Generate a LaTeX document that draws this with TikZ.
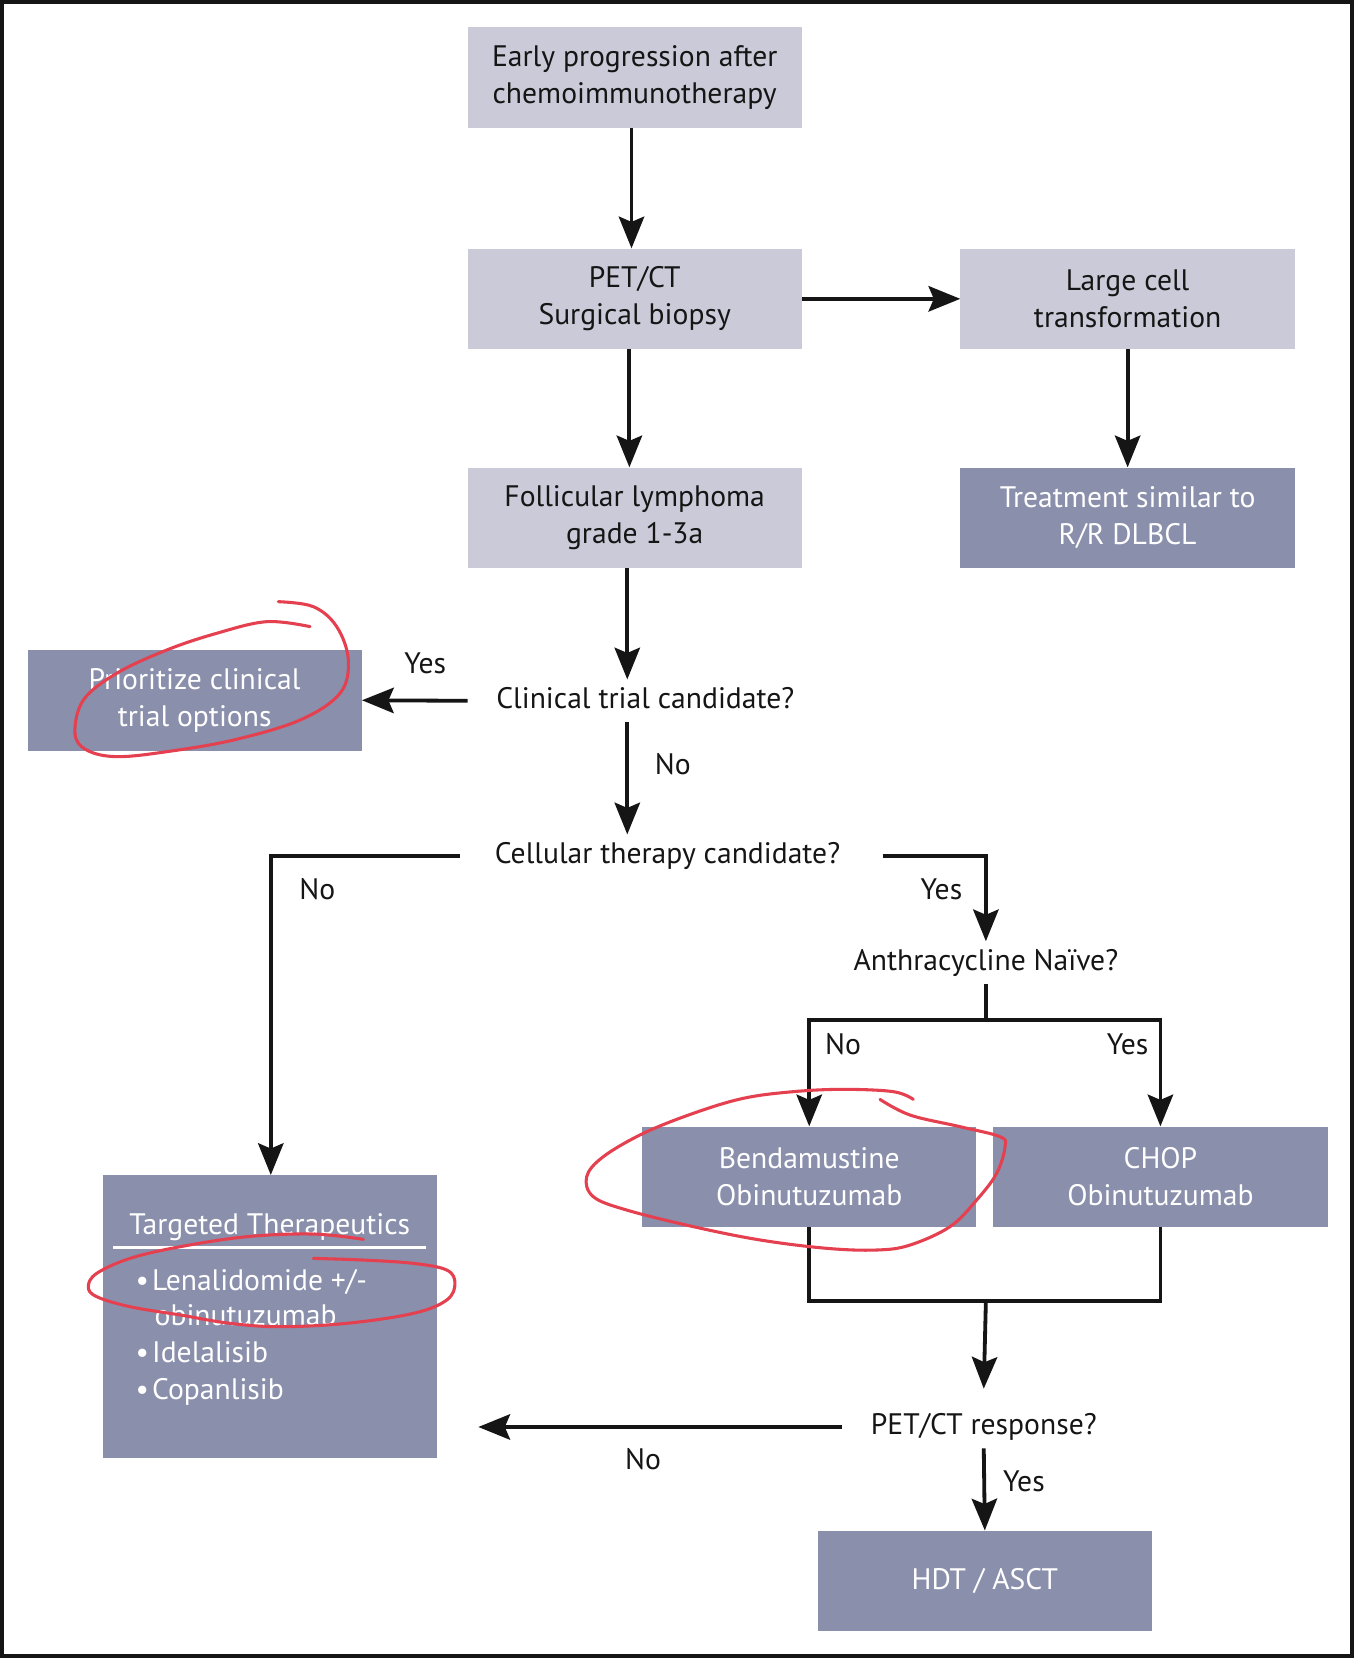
\documentclass[tikz,border=0pt]{standalone}
\usepackage{fontspec}
\setmainfont{PT Sans}
\usetikzlibrary{arrows.meta}
\definecolor{lightbox}{HTML}{CBCAD8}
\definecolor{darkbox}{HTML}{8A8FAC}
\definecolor{annot}{HTML}{E4404F}
\definecolor{ink}{HTML}{151515}
\begin{document}
\begin{tikzpicture}[x=1pt,y=-1pt,
  every node/.style={font=\fontsize{28}{35}\selectfont, align=center},
  lbox/.style={fill=lightbox, minimum width=316pt, minimum height=95pt, inner sep=0pt, text=ink},
  dbox/.style={fill=darkbox, minimum width=316pt, minimum height=95pt, inner sep=0pt, text=white},
  qtext/.style={inner xsep=27pt, inner ysep=7pt, text height=20pt, text depth=6pt, text=ink},
  lbl/.style={inner sep=0pt, text=ink},
  wtxt/.style={inner sep=0pt, text=white, anchor=base west},
  arr/.style={draw=ink, line width=3.6pt, -{Stealth[length=30pt,width=24pt,inset=5pt]}},
  ln/.style={draw=ink, line width=3.6pt},
  annotline/.style={draw=annot, line width=2.9pt, line cap=round, line join=round}
]
\useasboundingbox (0,0) rectangle (1280,1567.4);
\fill[white] (0,0) rectangle (1280,1567.4);
\draw[ink, line width=3.6pt] (1.8,1.8) rectangle (1278.2,1565.6);

% boxes
\node[lbox] (b1) at (600,73.5) {Early progression after\\chemoimmunotherapy};
\node[lbox] (b2) at (600,282.5) {PET/CT\\Surgical biopsy};
\node[lbox] (b3) at (1066,282.5) {Large cell\\transformation};
\node[lbox] (b4) at (600,489.5) {Follicular lymphoma\\grade 1-3a};
\node[dbox] (b5) at (1066,489.5) {Treatment similar to\\R/R DLBCL};
\node[dbox] (b6) at (184,662) {Prioritize clinical\\trial options};
\node[dbox] (b7) at (765,1112.5) {Bendamustine\\Obinutuzumab};
\node[dbox] (b8) at (1097,1112.5) {CHOP\\Obinutuzumab};
\node[dbox, minimum height=267pt] (b9) at (255,1244.5) {};
\node[dbox] (b10) at (931,1494.5) {HDT / ASCT};

% questions
\node[qtext] (q1) at (610,662.5) {Clinical trial candidate?};
\node[qtext] (q2) at (631,809) {Cellular therapy candidate?};
\node[qtext] (q3) at (932,910) {Anthracycline Na\"ive?};
\node[qtext] (q4) at (930,1349) {PET/CT response?};

% targeted therapeutics content
\node[inner sep=0pt, text=white, anchor=base] (tt) at (255,1167) {Targeted Therapeutics};
\draw[white, line width=2.6pt] (107,1179) -- (403,1179);
\node[wtxt] (t1) at (128,1219.5) {•\hspace{3pt}Lenalidomide +/-};
\node[wtxt] (t2) at (146,1253.5) {obinutuzumab};
\node[wtxt] (t3) at (128,1288.5) {•\hspace{3pt}Idelalisib};
\node[wtxt] (t4) at (128,1323) {•\hspace{3pt}Copanlisib};

% helper coordinates
\coordinate (sp) at (593,0);
\coordinate (s1) at (932,964);
\coordinate (j1) at (932,1230);

% connectors
\draw[arr] ([xshift=-3pt]b1.south) -- ([xshift=-3pt]b2.north);
\draw[arr] (b2.east) -- (b3.west);
\draw[arr] ([xshift=-5pt]b2.south) -- ([xshift=-5pt]b4.north);
\draw[arr] (b3.south) -- (b5.north);
\draw[arr] (b4.south -| sp) -- (q1.north -| sp);
\draw[arr] (q1.west) -- (b6.east);
\draw[arr] (q1.south -| sp) -- (q2.north -| sp);
\draw[arr] ([xshift=-6pt]q2.west) -| ([xshift=1pt]b9.north);
\draw[arr] ([xshift=13pt]q2.east) -| (q3.north);
\draw[ln] (q3.south) -- (s1);
\draw[arr] (s1) -| (b7.north);
\draw[arr] (s1) -| (b8.north);
\draw[ln] (b7.south) |- (b8.south |- j1) -- (b8.south);
\draw[arr] (j1) -- ([yshift=16pt]q4.north);
\draw[arr] (q4.west) -- ([xshift=39pt]q4.west -| b9.east);
\draw[arr] (q4.south) -- (b10.north);

% labels
\node[lbl] (l1) at (402,627) {Yes};
\node[lbl] (l2) at (636,722) {No};
\node[lbl] (l3) at (300,841) {No};
\node[lbl] (l4) at (890,841) {Yes};
\node[lbl] (l5) at (797,987) {No};
\node[lbl] (l6) at (1066,987) {Yes};
\node[lbl] (l7) at (608,1379) {No};
\node[lbl] (l8) at (968,1400) {Yes};

% red annotations
\draw[annotline] plot[smooth, tension=0.6] coordinates {(293.1,592.4) (252.1,587.7) (204.8,598.7) (157.6,614.5) (110.3,636.5) (78.8,661.8) (70.9,693.3) (81.9,709.0) (110.3,715.3) (157.6,710.6) (220.6,699.6) (283.6,680.7) (321.4,655.4) (329.3,624.0) (318.3,592.4) (296.2,573.5) (263.1,568.8)};
\draw[annotline] plot[smooth, tension=0.6] coordinates {(831.9,1039.3) (860.3,1054.1) (907.5,1065.1) (945.4,1074.6) (950.1,1084.0) (942.2,1109.2) (923.3,1134.4) (898.1,1159.6) (860.3,1177.0) (828.8,1181.7) (781.5,1180.1) (718.5,1172.2) (655.4,1159.6) (592.4,1143.9) (560.9,1131.3) (554.6,1112.4) (570.3,1093.5) (608.2,1071.4) (655.4,1052.5) (702.7,1038.3) (750.0,1032.0) (797.2,1029.8) (844.5,1032.0) (863.4,1039.3)};
\draw[annotline] plot[smooth, tension=0.6] coordinates {(343.5,1171.6) (296.2,1166.6) (233.2,1169.1) (170.2,1178.6) (122.9,1189.6) (91.4,1203.8) (83.5,1216.4) (91.4,1225.8) (122.9,1235.3) (170.2,1243.1) (217.4,1251.0) (264.7,1254.2) (327.8,1251.0) (390.7,1241.6) (422.3,1229.0) (430.1,1213.2) (422.3,1200.6) (390.7,1194.3) (343.5,1191.2) (296.2,1189.6)};
\end{tikzpicture}
\end{document}
